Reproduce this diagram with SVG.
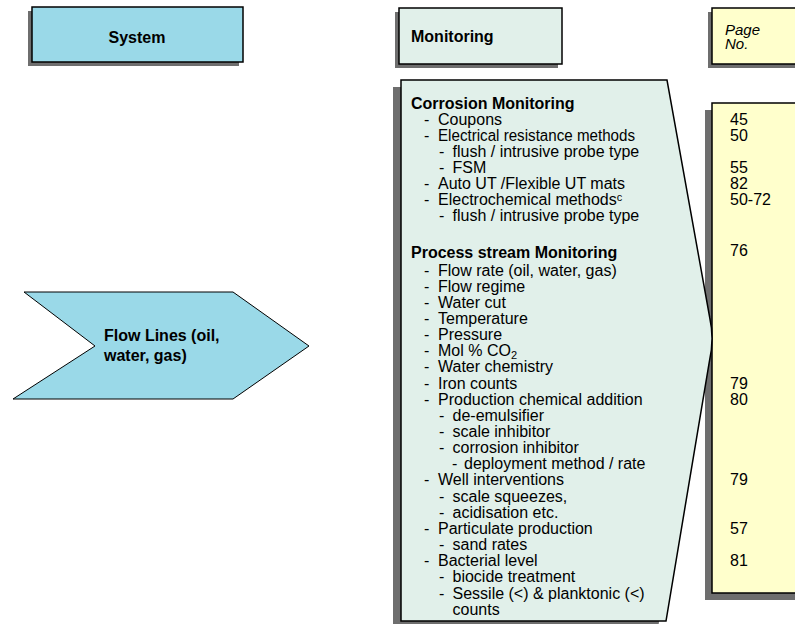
<svg xmlns="http://www.w3.org/2000/svg" width="795" height="624" viewBox="0 0 795 624">
  <style>
    text { font-family: "Liberation Sans", Arial, sans-serif; fill: #000; }
    .h { font-size: 16px; font-weight: bold; }
    .t { font-size: 16px; }
    .n { font-size: 16px; }
    .pg { font-size: 15px; font-style: italic; }
    .sub { font-size: 11px; }
    .shadow { fill: #6e6e6e; }
    .edge { stroke: #000; stroke-width: 1.5; }
    .blue { fill: #9ad9e8; }
    .green { fill: #e1f0ea; }
    .yellow { fill: #ffffcc; }
  </style>
  <rect width="795" height="624" fill="#fff"/>

  <!-- column headers -->
  <g id="system-header">
    <rect class="shadow" x="28" y="11" width="211" height="55"/>
    <rect class="blue edge" x="32" y="7" width="211" height="55"/>
    <text class="h" x="137" y="43" text-anchor="middle">System</text>
  </g>
  <g id="monitoring-header">
    <rect class="shadow" x="395" y="12" width="163" height="56"/>
    <rect class="green edge" x="399" y="8" width="163" height="56"/>
    <text class="h" x="411" y="42">Monitoring</text>
  </g>
  <g id="page-header">
    <rect class="shadow" x="708" y="12" width="100" height="56"/>
    <rect class="yellow edge" x="712" y="8" width="100" height="56"/>
    <text class="pg" x="725" y="35">Page</text>
    <text class="pg" x="725" y="48.5">No.</text>
  </g>

  <!-- system node -->
  <g id="flow-lines">
    <polygon class="blue" points="24,292 233,292 309,346 233,399 13,399 95,346" stroke="#000" stroke-width="1"/>
    <text class="h" x="104" y="341">Flow Lines (oil,</text>
    <text class="h" x="104" y="361">water, gas)</text>
  </g>

  <!-- page number column -->
  <g id="page-numbers">
    <rect class="shadow" x="705" y="110" width="100" height="490"/>
    <rect class="yellow edge" x="712" y="103" width="100" height="490"/>
    <text class="n" x="730" y="124.5">45</text>
    <text class="n" x="730" y="140.7">50</text>
    <text class="n" x="730" y="173">55</text>
    <text class="n" x="730" y="189.1">82</text>
    <text class="n" x="730" y="205.2">50-72</text>
    <text class="n" x="730" y="256">76</text>
    <text class="n" x="730" y="388.5">79</text>
    <text class="n" x="730" y="404.7">80</text>
    <text class="n" x="730" y="485.4">79</text>
    <text class="n" x="730" y="533.9">57</text>
    <text class="n" x="730" y="566.2">81</text>
  </g>

  <!-- monitoring list -->
  <g id="monitoring-list">
    <path class="shadow" transform="translate(-8,7)" d="M401,80 L667,80 L709.8,318 Q714.5,339 709.3,362 L666,621 L401,621 Z"/>
    <path class="green edge" d="M401,80 L667,80 L709.8,318 Q714.5,339 709.3,362 L666,621 L401,621 Z"/>

    <text class="h" x="411" y="108.5">Corrosion Monitoring</text>
    <g class="t">
      <text x="424" y="124.5">-</text><text x="438" y="124.5">Coupons</text>
      <text x="424" y="140.7">-</text><text x="438" y="140.7" textLength="197" lengthAdjust="spacingAndGlyphs">Electrical resistance methods</text>
      <text x="439" y="156.8">-</text><text x="452.5" y="156.8">flush / intrusive probe type</text>
      <text x="439" y="173">-</text><text x="452.5" y="173">FSM</text>
      <text x="424" y="189.1">-</text><text x="438" y="189.1">Auto UT /Flexible UT mats</text>
      <text x="424" y="205.2">-</text><text x="438" y="205.2">Electrochemical methods<tspan class="sub" dy="-4">c</tspan></text>
      <text x="439" y="221.4">-</text><text x="452.5" y="221.4">flush / intrusive probe type</text>
    </g>

    <text class="h" x="411" y="257.5">Process stream Monitoring</text>
    <g class="t">
      <text x="424" y="275.5">-</text><text x="438" y="275.5">Flow rate (oil, water, gas)</text>
      <text x="424" y="291.7">-</text><text x="438" y="291.7">Flow regime</text>
      <text x="424" y="307.8">-</text><text x="438" y="307.8">Water cut</text>
      <text x="424" y="324">-</text><text x="438" y="324">Temperature</text>
      <text x="424" y="340.1">-</text><text x="438" y="340.1">Pressure</text>
      <text x="424" y="356.3">-</text><text x="438" y="356.3">Mol % CO<tspan class="sub" dy="2.5">2</tspan></text>
      <text x="424" y="372.4">-</text><text x="438" y="372.4">Water chemistry</text>
      <text x="424" y="388.5">-</text><text x="438" y="388.5">Iron counts</text>
      <text x="424" y="404.7">-</text><text x="438" y="404.7">Production chemical addition</text>
      <text x="439" y="420.9">-</text><text x="452.5" y="420.9">de-emulsifier</text>
      <text x="439" y="437">-</text><text x="452.5" y="437">scale inhibitor</text>
      <text x="439" y="453.2">-</text><text x="452.5" y="453.2">corrosion inhibitor</text>
      <text x="452" y="469.3">-</text><text x="464" y="469.3">deployment method / rate</text>
      <text x="424" y="485.4">-</text><text x="438" y="485.4">Well interventions</text>
      <text x="439" y="501.6">-</text><text x="452.5" y="501.6">scale squeezes,</text>
      <text x="439" y="517.8">-</text><text x="452.5" y="517.8">acidisation etc.</text>
      <text x="424" y="533.9">-</text><text x="438" y="533.9">Particulate production</text>
      <text x="439" y="550">-</text><text x="452.5" y="550">sand rates</text>
      <text x="424" y="566.2">-</text><text x="438" y="566.2">Bacterial level</text>
      <text x="439" y="582.3">-</text><text x="452.5" y="582.3">biocide treatment</text>
      <text x="439" y="598.5">-</text><text x="452.5" y="598.5">Sessile (&lt;) &amp; planktonic (&lt;)</text>
      <text x="452.5" y="614.6">counts</text>
    </g>
  </g>

  <g id="connectors"/>
</svg>
